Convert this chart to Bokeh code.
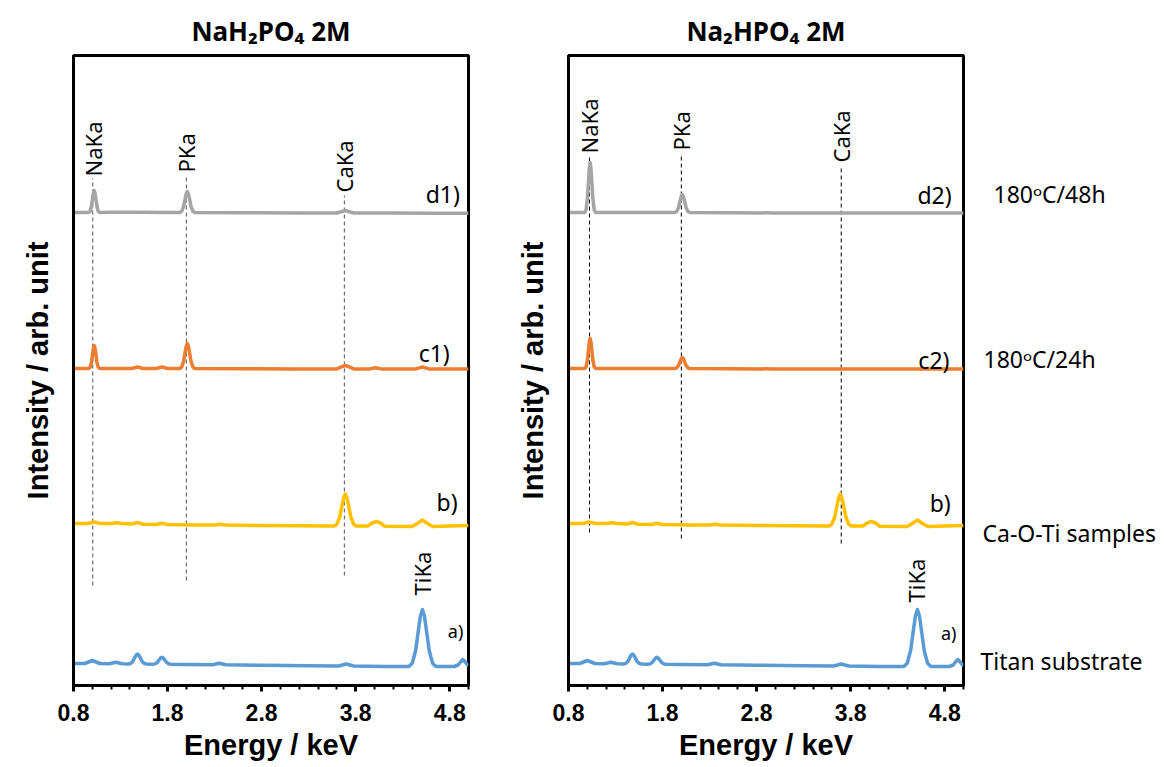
import numpy as np
from bokeh.plotting import figure
from bokeh.models import Range1d, FixedTicker, ColumnDataSource
from bokeh.layouts import row
from bokeh.embed import file_html
from bokeh.resources import INLINE
from bokeh.core.properties import value

# ---------------- data ----------------
ENERGY_TICKS = [0.8, 1.8, 2.8, 3.8, 4.8]
PANEL_TITLES = ["NaH\u2082PO\u2084 2M", "Na\u2082HPO\u2084 2M"]
SAMPLE_LABELS = ["180\u1d52C/48h", "180\u1d52C/24h", "Ca-O-Ti samples", "Titan substrate"]

# spectra: energy (keV) and intensity above own baseline (arb. unit)
d1_x = [0.80, 0.90, 0.962, 0.977, 0.991, 1.002, 1.011, 1.020, 1.029, 1.038, 1.049, 1.063, 1.078,
        1.20, 1.50, 1.80, 1.930, 1.950, 1.970, 1.985, 1.998, 2.010, 2.023, 2.035, 2.050, 2.070, 2.090,
        2.60, 3.20, 3.60, 3.655, 3.690, 3.725, 3.780, 4.20, 4.60, 5.00]
d1_y = [0.0, 0.0, 0.0, 1.2, 6.2, 13.4, 19.4, 22.0, 19.4, 13.4, 6.2, 1.2, 0.0,
        0.2, 0.2, 0.0, 0.0, 1.2, 5.9, 12.8, 18.5, 21.0, 18.5, 12.8, 5.9, 1.2, 0.0,
        -0.3, -0.5, -0.5, 1.0, 2.0, 1.0, -0.5, -0.6, -0.7, -0.8]

d2_x = [0.80, 0.90, 0.972, 0.987, 1.001, 1.012, 1.021, 1.030, 1.039, 1.048, 1.059, 1.073, 1.088,
        1.30, 1.60, 1.85, 1.930, 1.950, 1.970, 1.985, 1.998, 2.010, 2.023, 2.035, 2.050, 2.070, 2.090,
        2.50, 3.00, 3.50, 4.00, 4.50, 5.00]
d2_y = [0.0, 0.0, 0.0, 2.8, 14.0, 30.5, 44.0, 50.0, 44.0, 30.5, 14.0, 2.8, 0.0,
        0.0, 0.0, 0.0, 0.0, 1.0, 5.0, 11.0, 15.8, 18.0, 15.8, 11.0, 5.0, 1.0, 0.0,
        -0.3, -0.4, -0.4, -0.5, -0.5, -0.5]

c1_x = [0.80, 0.90, 0.962, 0.977, 0.991, 1.002, 1.011, 1.020, 1.029, 1.038, 1.049, 1.063, 1.078,
        1.25, 1.42, 1.48, 1.54, 1.68, 1.74, 1.80,
        1.930, 1.950, 1.970, 1.985, 1.998, 2.010, 2.023, 2.035, 2.050, 2.070, 2.090,
        2.60, 3.20, 3.60, 3.655, 3.690, 3.725, 3.780, 3.95, 4.01, 4.07, 4.44, 4.51, 4.58, 5.00]
c1_y = [0.0, 0.0, 0.0, 1.3, 6.4, 14.0, 20.2, 23.0, 20.2, 14.0, 6.4, 1.3, 0.0,
        0.0, 0.0, 1.5, 0.0, 0.0, 1.5, 0.0,
        0.0, 1.4, 7.0, 15.3, 22.0, 25.0, 22.0, 15.3, 7.0, 1.4, 0.0,
        -0.3, -0.4, -0.4, 1.8, 3.0, 1.8, -0.4, -0.4, 0.8, -0.4, -0.4, 1.5, -0.4, -0.4]

c2_x = [0.80, 0.90, 0.972, 0.987, 1.001, 1.012, 1.021, 1.030, 1.039, 1.048, 1.059, 1.073, 1.088,
        1.30, 1.60, 1.85, 1.930, 1.950, 1.970, 1.985, 1.998, 2.010, 2.023, 2.035, 2.050, 2.070, 2.090,
        2.50, 3.00, 3.50, 4.00, 4.50, 5.00]
c2_y = [0.0, 0.0, 0.0, 1.7, 8.4, 18.3, 26.4, 30.0, 26.4, 18.3, 8.4, 1.7, 0.0,
        0.0, 0.0, 0.0, 0.0, 0.6, 3.1, 6.7, 9.7, 11.0, 9.7, 6.7, 3.1, 0.6, 0.0,
        -0.3, -0.4, -0.4, -0.4, -0.4, -0.4]

b_x = [0.80, 0.95, 1.02, 1.09, 1.20, 1.26, 1.32, 1.42, 1.48, 1.54, 1.68, 1.74, 1.80,
       2.10, 2.30, 2.36, 2.42, 2.80, 3.20, 3.500,
       3.572, 3.601, 3.631, 3.653, 3.672, 3.690, 3.708, 3.727, 3.749, 3.779, 3.808,
       3.93, 3.975, 4.02, 4.065, 4.11, 4.40, 4.46, 4.51, 4.56, 4.62, 4.80, 5.00]
b_y = [1.0, 1.0, 2.5, 1.0, 1.0, 1.8, 1.0, 0.5, 2.0, 0.3, 0.0, 1.2, 0.0,
       -0.5, -0.5, 0.2, -0.5, -1.0, -1.2, -1.5,
       -1.5, 0.3, 7.5, 18.0, 26.5, 30.5, 26.5, 18.0, 7.5, 0.3, -1.5,
       -1.5, 1.5, 3.0, 1.5, -1.8, -2.0, 1.2, 4.5, 1.2, -2.0, -1.5, -1.0]

a_x = [0.80, 0.92, 1.00, 1.08, 1.18, 1.25, 1.32,
       1.384, 1.408, 1.432, 1.450, 1.465, 1.480, 1.495, 1.510, 1.528, 1.552, 1.576,
       1.644, 1.668, 1.692, 1.710, 1.725, 1.740, 1.755, 1.770, 1.788, 1.812, 1.836,
       2.00, 2.28, 2.35, 2.42, 2.80, 3.30, 3.62, 3.70, 3.78, 4.10,
       4.366, 4.402, 4.438, 4.465, 4.488, 4.510, 4.532, 4.555, 4.582, 4.618, 4.654,
       4.80, 4.85, 4.89, 4.915, 4.94, 4.965, 4.99, 5.00]
a_y = [0.0, 0.0, 3.0, 0.0, -0.3, 1.2, -0.3,
       -0.5, 0.1, 2.3, 5.6, 8.3, 9.5, 8.3, 5.6, 2.3, 0.1, -0.5,
       -0.8, -0.4, 1.2, 3.5, 5.4, 6.2, 5.4, 3.5, 1.2, -0.4, -0.8,
       -1.0, -1.2, 0.3, -1.3, -1.8, -2.2, -2.5, -0.5, -2.5, -3.0,
       -3.0, 0.2, 13.0, 31.8, 47.2, 54.0, 47.2, 31.8, 13.0, 0.2, -3.0,
       -3.0, -3.0, -1.5, 1.5, 4.0, 1.5, -1.5, -2.0]

# peak marker lines (keV) and labels
PEAK_NAMES = ["NaKa", "PKa", "CaKa"]
left_peak_x = [1.005, 2.0, 3.68]
right_peak_x = [1.023, 2.0, 3.70]

# ---------------- layout constants ----------------
H = 767
Y_MAX = 630
OFFSETS = {"a": 22, "b": 161, "c": 317, "d": 473}
COLORS = {"a": "#5B9BD5", "b": "#FFC000", "c": "#ED7D31", "d": "#A5A5A5"}
REG = "Noto Sans"
BOLD = "Liberation Sans"


def make_panel(title, traces, peak_x, line_top, line_bot, label_y, ti, letters,
               width, bl, br, dash_color):
    p = figure(width=width, height=H, x_range=Range1d(0.8, 5.0), y_range=Range1d(0, Y_MAX),
               output_backend="svg", toolbar_location=None,
               min_border_left=bl, min_border_right=br, min_border_top=55, min_border_bottom=82)
    p.title.text = title
    p.title.align = "center"
    p.title.text_font = "Noto Sans"
    p.title.text_font_style = "bold"
    p.title.text_font_size = "26px"
    p.title.text_color = "black"
    p.title.standoff = 14
    p.xgrid.visible = False
    p.ygrid.visible = False
    p.outline_line_color = "black"
    p.outline_line_width = 3
    p.outline_line_alpha = 1.0
    p.background_fill_color = "white"
    p.border_fill_color = "white"

    xa = p.xaxis[0]
    xa.ticker = FixedTicker(ticks=ENERGY_TICKS,
                            minor_ticks=[round(v, 1) for v in np.arange(0.8, 5.01, 0.2)])
    xa.axis_label = "Energy / keV"
    xa.axis_label_text_font = BOLD
    xa.axis_label_text_font_style = "bold"
    xa.axis_label_text_font_size = "29px"
    xa.axis_label_text_color = "black"
    xa.axis_label_standoff = 5
    xa.major_label_text_font = BOLD
    xa.major_label_text_font_style = "bold"
    xa.major_label_text_font_size = "23px"
    xa.major_label_text_color = "black"
    xa.major_label_standoff = 12
    xa.axis_line_width = 3
    xa.axis_line_color = "black"
    xa.major_tick_line_width = 3
    xa.major_tick_line_color = "black"
    xa.major_tick_out = 6
    xa.major_tick_in = 0
    xa.minor_tick_line_width = 2
    xa.minor_tick_line_color = "black"
    xa.minor_tick_out = 4
    xa.minor_tick_in = 0

    ya = p.yaxis[0]
    ya.ticker = FixedTicker(ticks=[])
    ya.axis_label = "Intensity / arb. unit"
    ya.axis_label_text_font = BOLD
    ya.axis_label_text_font_style = "bold"
    ya.axis_label_text_font_size = "29px"
    ya.axis_label_text_color = "black"
    ya.axis_label_standoff = 20
    ya.axis_line_width = 3
    ya.axis_line_color = "black"
    ya.major_tick_out = 0
    ya.minor_tick_out = 0
    ya.major_label_standoff = 0

    # dashed marker lines
    p.segment(x0=peak_x, y0=line_bot, x1=peak_x, y1=line_top, line_color=dash_color,
              line_width=1, line_dash="4 3")

    # spectra
    for key, (xs, ys) in traces.items():
        yy = [v + OFFSETS[key] for v in ys]
        p.line(xs, yy, line_color=COLORS[key], line_width=3.5, line_join="round")

    # peak labels (rotated)
    src = ColumnDataSource(dict(x=peak_x + [ti[0]], y=label_y + [ti[1]],
                                t=PEAK_NAMES + ["TiKa"]))
    p.text(x="x", y="y", text="t", source=src, angle=np.pi / 2, text_align="left",
           text_baseline="middle", text_font=value(REG), text_font_size="22px",
           text_color="black")

    # trace letters
    lx, ly, lt, ls = letters
    for x, y, t, s in zip(lx, ly, lt, ls):
        p.text(x=[x], y=[y], text=[t], text_align="left", text_baseline="middle",
               text_font=value(REG), text_font_size=s, text_color="black")
    return p


p1 = make_panel(PANEL_TITLES[0],
                {"d": (d1_x, d1_y), "c": (c1_x, c1_y), "b": (b_x, b_y), "a": (a_x, a_y)},
                left_peak_x, [507, 510, 490], [100, 105, 110], [509, 513, 493], (4.51, 90),
                ([4.545, 4.47, 4.66, 4.78], [492, 333, 184, 55],
                 ["d1)", "c1)", "b)", "a)"], ["23px", "23px", "23px", "18px"]),
                478, 73, 10, "#555555")

p2 = make_panel(PANEL_TITLES[1],
                {"d": (d2_x, d2_y), "c": (c2_x, c2_y), "b": (b_x, b_y), "a": (a_x, a_y)},
                right_peak_x, [530, 532, 520], [153, 147, 142], [532, 535, 523], (4.49, 83),
                ([4.51, 4.52, 4.64, 4.76], [491, 326, 183, 53],
                 ["d2)", "c2)", "b)", "a)"], ["23px", "23px", "23px", "18px"]),
                488, 90, 3, "black")

# right-hand sample labels
p3 = figure(width=196, height=H, x_range=Range1d(0, 196), y_range=Range1d(0, Y_MAX),
            output_backend="svg", toolbar_location=None, x_axis_location=None,
            y_axis_location=None, min_border_left=0, min_border_right=0,
            min_border_top=55, min_border_bottom=82)
p3.outline_line_color = None
p3.xgrid.visible = False
p3.ygrid.visible = False
p3.text(x=[27, 17, 16, 14], y=[492, 327, 153, 25], text=SAMPLE_LABELS, text_align="left",
        text_baseline="middle", text_font=value(REG), text_font_size="23px", text_color="black")

layout = row(p1, p2, p3)
open("out.html", "w").write(file_html(layout, INLINE))
